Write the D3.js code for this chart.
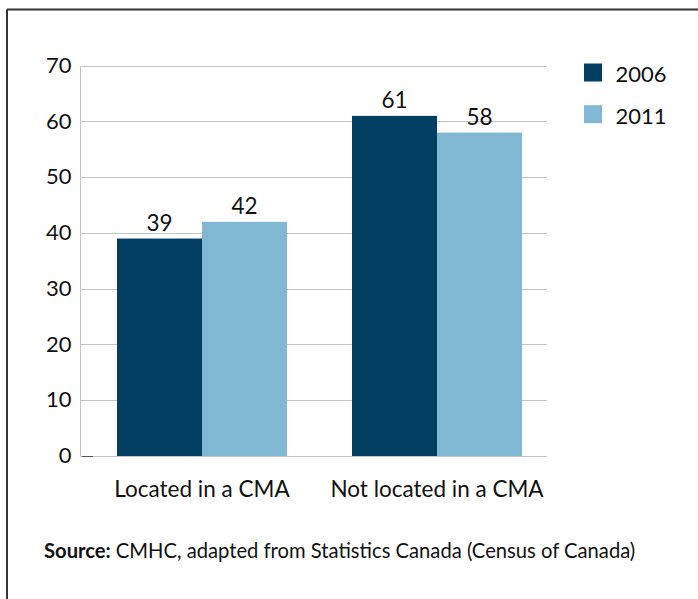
<!DOCTYPE html>
<html>
<head>
<meta charset="utf-8">
<script src="https://cdn.jsdelivr.net/npm/d3@7"></script>
<style>
  html, body { margin: 0; padding: 0; background: #fff; }
  svg { display: block; }
  text { font-family: Lato, "Open Sans", sans-serif; fill: #111; }
</style>
</head>
<body>
<script>
// Share of households, by location (per cent)
const categories = ["Located in a CMA", "Not located in a CMA"];
const seriesNames = ["2006", "2011"];
const values2006 = [39, 61];
const values2011 = [42, 58];
const yTicks = [0, 10, 20, 30, 40, 50, 60, 70];
const seriesColors = ["#023e62", "#80b8d3"];

const W = 698, H = 599;
const svg = d3.select("body").append("svg").attr("width", W).attr("height", H);

// frame: top and left rules
svg.append("line").attr("x1", 7).attr("x2", W).attr("y1", 9.5).attr("y2", 9.5)
  .attr("stroke", "#333").attr("stroke-width", 2);
svg.append("line").attr("x1", 7).attr("x2", 7).attr("y1", 9.5).attr("y2", H)
  .attr("stroke", "#333").attr("stroke-width", 2);

const plot = { left: 80.5, right: 547, top: 65.7, bottom: 456 };

const y = d3.scaleLinear().domain([0, 70]).range([plot.bottom, plot.top]);
const x0 = d3.scaleBand().domain(categories).range([84.5, 554.5])
  .paddingInner(0.2766).paddingOuter(0.1383);
const x1 = d3.scaleBand().domain(seriesNames).range([0, x0.bandwidth()]);

// gridlines
svg.append("g").selectAll("line").data(yTicks).join("line")
  .attr("x1", plot.left).attr("x2", plot.right)
  .attr("y1", d => Math.round(y(d)) + 0.5).attr("y2", d => Math.round(y(d)) + 0.5)
  .attr("stroke", "#c4c4c4").attr("stroke-width", 1);

// vertical axis line
svg.append("line").attr("x1", plot.left).attr("x2", plot.left)
  .attr("y1", Math.round(y(70)) + 0.5).attr("y2", Math.round(y(0)) + 0.5)
  .attr("stroke", "#c4c4c4");

// y tick labels
const yAxis = d3.axisLeft(y).tickValues(yTicks).tickSize(0).tickPadding(9);
const yg = svg.append("g").attr("transform", `translate(${plot.left},0)`).call(yAxis);
yg.select(".domain").remove();
yg.selectAll("text").attr("font-size", 22).attr("dy", "0.3em")
  .style("font-family", "Lato, sans-serif").attr("fill", "#111");

// short dark stub at the base
svg.append("line").attr("x1", 82).attr("x2", 93)
  .attr("y1", Math.round(y(0)) + 0.5).attr("y2", Math.round(y(0)) + 0.5)
  .attr("stroke", "#555");

const rows = categories.map((c, i) => ({
  cat: c,
  vals: [
    { s: seriesNames[0], v: values2006[i] },
    { s: seriesNames[1], v: values2011[i] }
  ]
}));

const groups = svg.append("g").selectAll("g").data(rows).join("g")
  .attr("transform", d => `translate(${x0(d.cat)},0)`);

groups.selectAll("rect").data(d => d.vals).join("rect")
  .attr("x", d => x1(d.s))
  .attr("width", x1.bandwidth())
  .attr("y", d => y(d.v))
  .attr("height", d => y(0) - y(d.v))
  .attr("fill", (d, i) => seriesColors[i]);

groups.selectAll("text").data(d => d.vals).join("text")
  .attr("x", d => x1(d.s) + x1.bandwidth() / 2)
  .attr("y", d => y(d.v) - 8)
  .attr("text-anchor", "middle")
  .attr("font-size", 22.5)
  .text(d => d.v);

// category labels
const xAxis = d3.axisBottom(x0).tickSize(0).tickPadding(0);
const xg = svg.append("g").attr("transform", `translate(0,${plot.bottom})`).call(xAxis);
xg.select(".domain").remove();
xg.selectAll("text").attr("font-size", 22.5).attr("dy", 0).attr("y", 41)
  .style("font-family", "Lato, sans-serif").attr("fill", "#111");

// legend
const legend = svg.append("g").selectAll("g").data(seriesNames).join("g")
  .attr("transform", (d, i) => `translate(584,${63.5 + i * 41.7})`);
legend.append("rect").attr("width", 18).attr("height", 18)
  .attr("fill", (d, i) => seriesColors[i]);
legend.append("text").attr("x", 31.5).attr("y", 18.5)
  .attr("font-size", 22).text(d => d);

// source note
const note = svg.append("text").attr("x", 44).attr("y", 558).attr("font-size", 20.2);
note.append("tspan").attr("font-weight", "bold").text("Source:");
note.append("tspan").attr("dx", 5).text("CMHC, adapted from Statistics Canada (Census of Canada)");
</script>
</body>
</html>
